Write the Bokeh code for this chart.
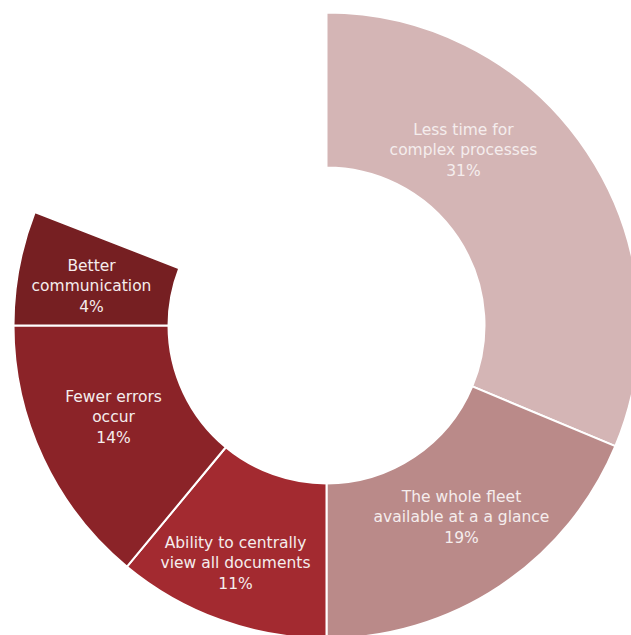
from bokeh.plotting import figure
from bokeh.models import Range1d, ColumnDataSource
from bokeh.embed import file_html
from bokeh.resources import INLINE
from bokeh.core.properties import value

# Data
categories = ["Less time for\ncomplex processes", "The whole fleet\navailable at a a glance",
              "Ability to centrally\nview all documents", "Fewer errors\noccur", "Better\ncommunication"]
pct_labels = ["31%", "19%", "11%", "14%", "4%"]
# share of the full circle occupied by each slice (as drawn)
shares = [31.3, 18.7, 11.0, 14.0, 5.9]
colors = ["#D4B5B5", "#BA8A89", "#A32A30", "#8B2328", "#761F22"]

# Layout (pixel space)
W, H = 631, 635
cx, cy = 326, H - 325
r_in, r_out = 158, 313
label_px = [(463, 150), (461, 517), (235, 563), (113, 417), (91, 286)]

starts, ends = [], []
cum = 0.0
for s in shares:
    a0 = 90 - (cum + s) * 3.6
    a1 = 90 - cum * 3.6
    starts.append(a0)
    ends.append(a1)
    cum += s

src = ColumnDataSource(dict(start=starts, end=ends, color=colors))

p = figure(width=W, height=H, output_backend="svg", toolbar_location=None,
           x_range=Range1d(0, W), y_range=Range1d(0, H), min_border=0)
p.axis.visible = False
p.grid.visible = False
p.outline_line_color = None
p.background_fill_color = "white"
p.border_fill_color = "white"

p.annular_wedge(x=cx, y=cy, inner_radius=r_in, outer_radius=r_out,
                start_angle="start", end_angle="end", start_angle_units="deg",
                end_angle_units="deg", fill_color="color", line_color="white",
                line_width=2, source=src)

texts = [c + "\n" + v for c, v in zip(categories, pct_labels)]
lsrc = ColumnDataSource(dict(x=[q[0] for q in label_px], y=[H - q[1] for q in label_px], t=texts))
p.text(x="x", y="y", text="t", source=lsrc, text_align="center", text_baseline="middle",
       text_font=value("DejaVu Sans"), text_font_size="15.5px", text_color="#F5EDED",
       text_line_height=1.15)

open("out.html", "w").write(file_html(p, INLINE))
